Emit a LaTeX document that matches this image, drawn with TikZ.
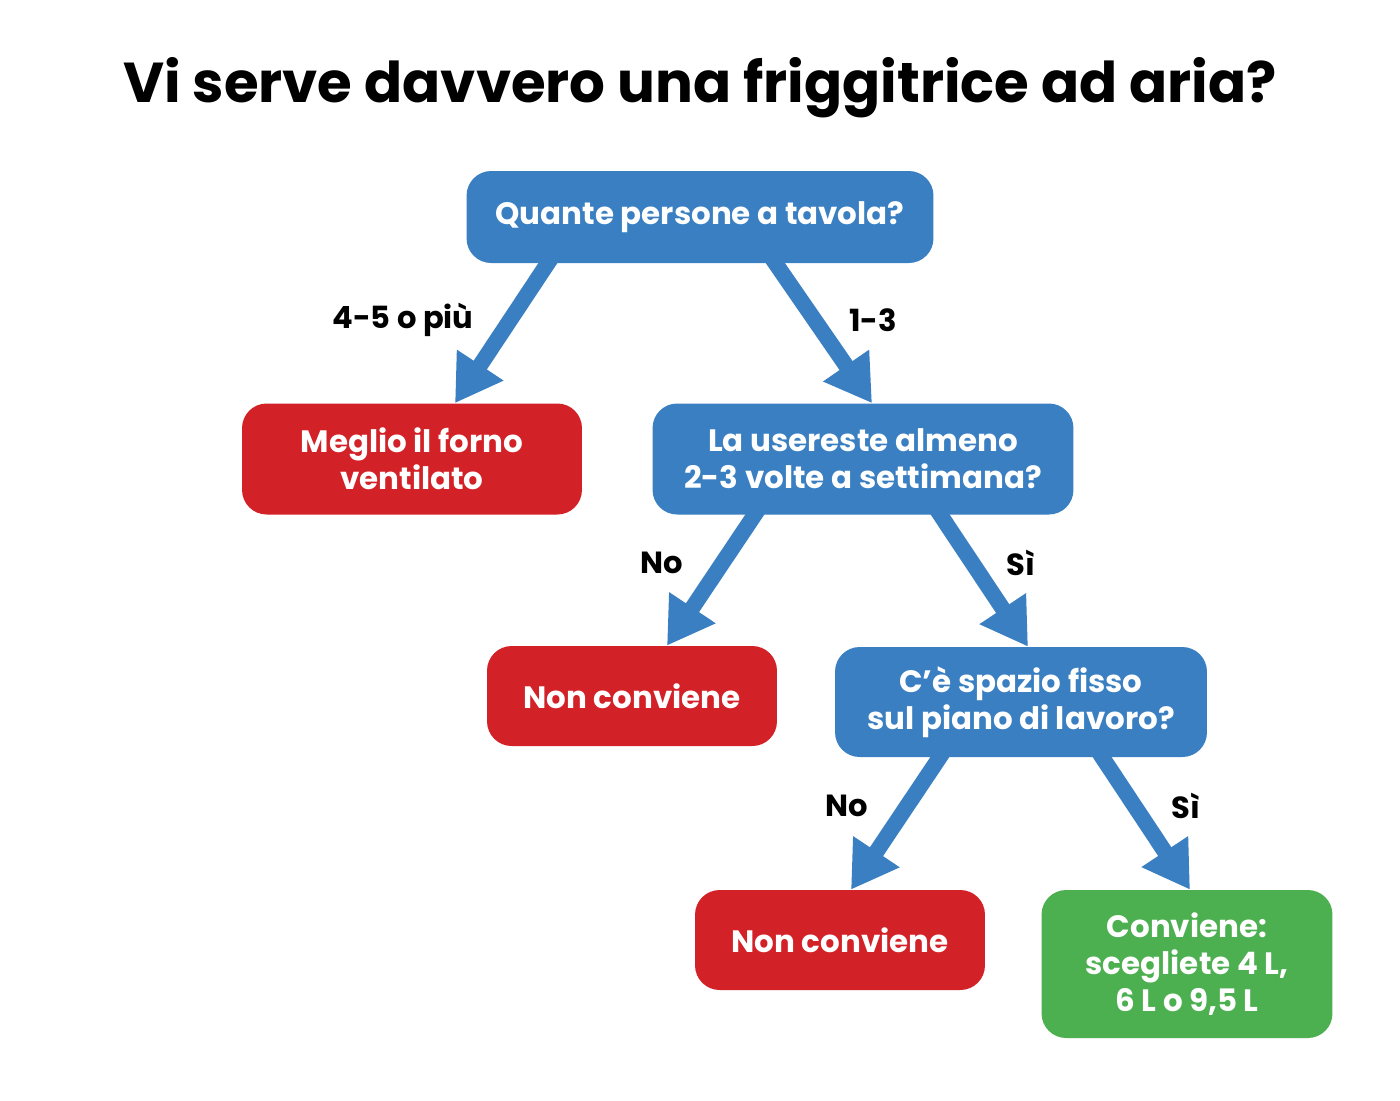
\documentclass[tikz,border=0pt]{standalone}
\usepackage{fontspec}
\setmainfont{Poppins}
\usetikzlibrary{arrows.meta,positioning,calc}
\definecolor{askblue}{HTML}{3A7FC1}
\definecolor{nored}{HTML}{D32128}
\definecolor{okgreen}{HTML}{4CAF50}
\newcommand{\titlefont}{\fontsize{32}{38}\selectfont\bfseries}
\newcommand{\boxfont}{\fontsize{17.6}{21}\selectfont\bfseries}
\newcommand{\lblfont}{\fontsize{17.4}{20}\selectfont\bfseries}

\begin{document}
\begin{tikzpicture}[x=0.02cm, y=-0.02cm,
    box/.style={rounded corners=14pt, align=center, text=white, font=\boxfont, inner sep=4pt},
    ask/.style={box, fill=askblue},
    nogo/.style={box, fill=nored},
    okbox/.style={box, fill=okgreen},
    arr/.style={-{Triangle[length=26pt, width=30pt]}, line width=9pt, askblue},
    lbl/.style={font=\lblfont}
  ]
  \fill[white] (0,0) rectangle (1400,1100);
  \useasboundingbox (0,0) rectangle (1400,1100);

  \node[font=\titlefont] (titolo) at (700,88) {Vi serve davvero una friggitrice ad aria?};

  \node[ask, minimum width=9.34cm, minimum height=1.84cm] (persone) at (700,217) {Quante persone a tavola?};
  \node[nogo, minimum width=6.8cm, minimum height=2.22cm] (forno) at (412,459) {Meglio il forno\\ventilato};
  \node[ask, minimum width=8.42cm, minimum height=2.22cm] (usereste) at (863,459) {La usereste almeno\\2-3 volte a settimana?};
  \node[nogo, minimum width=5.8cm, minimum height=2.0cm] (noA) at (632,696) {Non conviene};
  \node[ask, minimum width=7.44cm, minimum height=2.2cm] (spazio) at (1021,702) {C’è spazio fisso\\sul piano di lavoro?};
  \node[nogo, minimum width=5.8cm, minimum height=2.0cm] (noB) at (840,940) {Non conviene};
  \node[okbox, minimum width=5.82cm, minimum height=2.96cm] (conviene) at (1187,964) {Conviene:\\scegliete 4 L,\\6 L o 9,5 L};

  \draw[arr] ($(persone.south)+(-147,-8)$) -- ($(forno.north)+(43,0)$);
  \draw[arr] ($(persone.south)+(70,-8)$) -- ($(usereste.north)+(9,0)$);
  \draw[arr] ($(usereste.south)+(-103,-8)$) -- ($(noA.north)+(35,0)$);
  \draw[arr] ($(usereste.south)+(72,-8)$) -- ($(spazio.north)+(7,0)$);
  \draw[arr] ($(spazio.south)+(-76,-8)$) -- ($(noB.north)+(11,0)$);
  \draw[arr] ($(spazio.south)+(76,-8)$) -- ($(conviene.north)+(3,0)$);

  \node[lbl] (l45) at (403,320) {4-5 o più};
  \node[lbl] (l13) at (873,320) {1-3};
  \node[lbl] (noUno) at (662,563) {No};
  \node[lbl] (siUno) at (1021,563) {Sì};
  \node[lbl] (noDue) at (847,806) {No};
  \node[lbl] (siDue) at (1186,806) {Sì};
\end{tikzpicture}
\end{document}
